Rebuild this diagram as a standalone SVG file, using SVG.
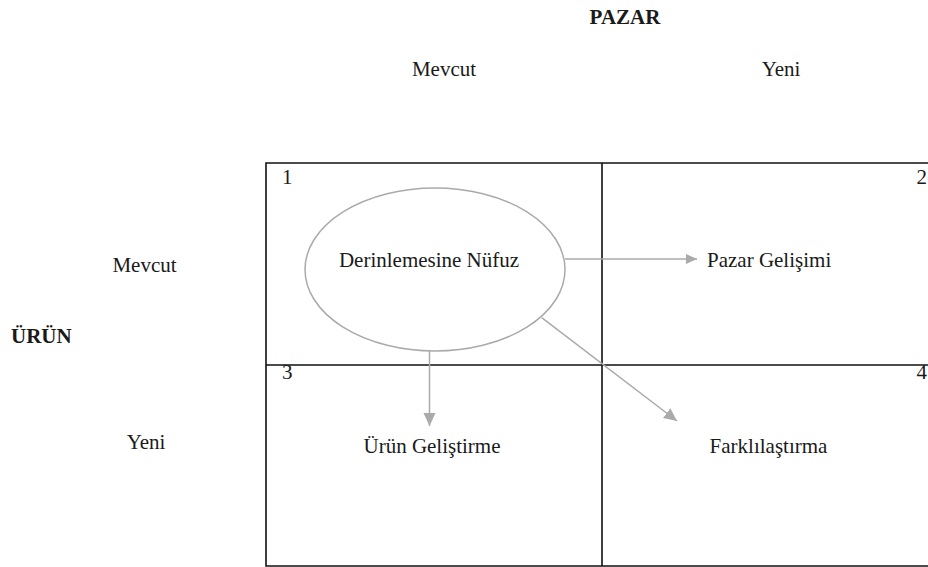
<svg xmlns="http://www.w3.org/2000/svg" width="928" height="567" viewBox="0 0 928 567">
<style>
text{font-family:"Liberation Serif","Times New Roman",serif;font-size:21px;fill:#1a1a1a}
.b{font-weight:bold}
.m{text-anchor:middle}
.grid{stroke:#111;stroke-width:1.6;fill:none}
.conn{stroke:#aaa;stroke-width:1.5;fill:none}
</style>
<defs>
<marker id="ah" markerUnits="userSpaceOnUse" markerWidth="12" markerHeight="12" viewBox="0 0 12 12" refX="11" refY="6" orient="auto">
<path d="M0,1 L11,6 L0,11 Z" fill="#aaa"/>
</marker>
<marker id="ah2" markerUnits="userSpaceOnUse" markerWidth="14" markerHeight="14" viewBox="0 0 14 14" refX="13" refY="7" orient="auto">
<path d="M0,1 L13,7 L0,13 Z" fill="#aaa"/>
</marker>
</defs>
<g id="headers">
<text class="b m" x="625" y="24">PAZAR</text>
<text class="m" x="444" y="76">Mevcut</text>
<text class="m" x="781" y="76">Yeni</text>
<text class="m" x="144.5" y="272">Mevcut</text>
<text class="b" x="11" y="343">ÜRÜN</text>
<text class="m" x="146" y="449">Yeni</text>
</g>
<g id="grid">
<path class="grid" d="M930,163 H266 V566 H930 M602,163 V566 M266,365 H930"/>
<text x="282" y="184">1</text>
<text x="927" y="184" text-anchor="end">2</text>
<text x="282" y="379">3</text>
<text x="927" y="379" text-anchor="end">4</text>
</g>
<g id="derinlemesine">
<ellipse cx="435" cy="269.5" rx="130" ry="81.5" fill="none" stroke="#aaa" stroke-width="1.5"/>
<text class="m" x="429" y="267">Derinlemesine Nüfuz</text>
</g>
<g id="pazar-gelisimi">
<text x="707" y="267">Pazar Gelişimi</text>
</g>
<g id="urun-gelistirme">
<text class="m" x="432" y="453">Ürün Geliştirme</text>
</g>
<g id="farklilastirma">
<text class="m" x="768.5" y="453">Farklılaştırma</text>
</g>
<g id="connectors">
<line class="conn" x1="565" y1="259" x2="697" y2="259" marker-end="url(#ah)"/>
<line class="conn" x1="429.5" y1="351" x2="429.5" y2="426" marker-end="url(#ah2)"/>
<line class="conn" x1="541.7" y1="317.7" x2="677" y2="421" marker-end="url(#ah2)"/>
</g>
</svg>
